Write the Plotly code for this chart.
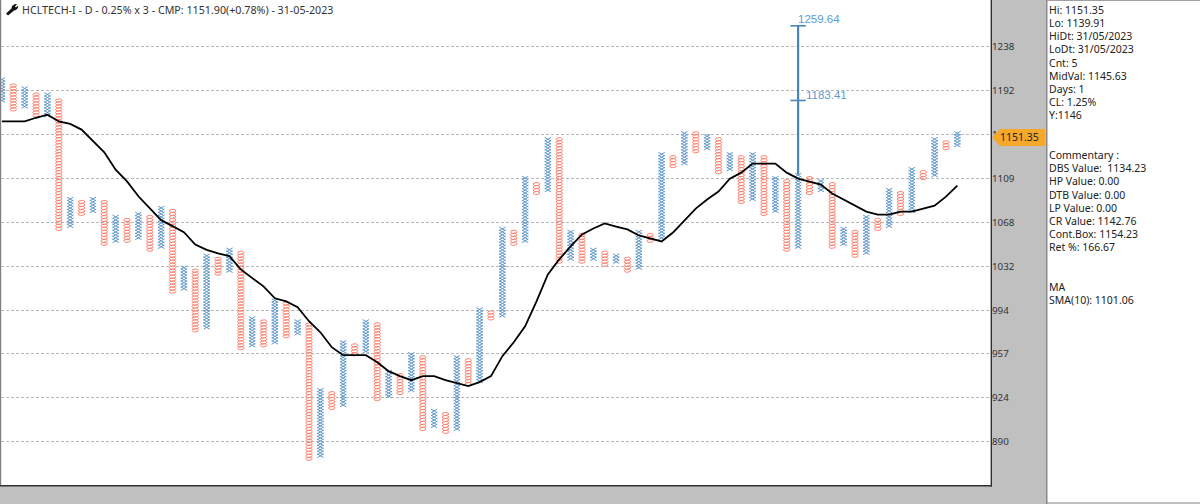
import numpy as np
import plotly.graph_objects as go

W, H = 1200, 504
BOX = 1.0025
ANCHOR = 1151.35

col_high = [1203.5,1199.5,1194.5,1190.5,1188.5,1184.6,1090.7,1088,1090.7,1088,1074.4,1071.7,1077.1,1074.4,1082.4,1079.8,1029.6,1027.1,1040,1037.4,1045.2,1042.6,986.7,983.5,1001.7,999.2,983.5,981.9,928.4,926.1,967.2,964,983.5,981.9,942.5,941,957.6,955.2,913.1,910.8,955.2,952.8,994.2,991.7,1063.8,1061.1,1108,1104.4,1146.7,1144.8,1061.1,1058.5,1045.2,1042.6,1040,1037.4,1061.1,1058.5,1132.3,1129.6,1152.3,1150.4,1149.5,1146.7,1132.3,1129.6,1132.3,1129.6,1109.9,1107.2,1112.7,1109.9,1107.2,1104.4,1063.8,1061.1,1074.4,1071.7,1098.9,1096.1,1118.3,1115.5,1146.7,1144,1151.35]
col_low = [1184.6,1175.8,1178.7,1167.9,1168.9,1063.8,1066.4,1077.1,1078.9,1050.4,1053.1,1053.1,1055.7,1044.8,1046.1,1009.2,1010.9,976.9,979.4,1024.5,1026.2,962.4,964.8,964.8,966.4,971.2,973.7,876.5,878.7,914.6,917.6,956.8,960,921.5,924.5,926.1,928.4,898.7,901,896.5,898.7,933.1,936.2,985.9,989.2,1050.4,1053.1,1096.1,1098.9,1034.8,1036.5,1034.8,1036.5,1031.4,1034.8,1026.2,1029.6,1053.1,1055.7,1121.1,1124,1135.2,1138.1,1115.5,1118.3,1088,1090.7,1077.1,1079.8,1045.2,1047,1096.1,1098.9,1047,1050.4,1040,1042.6,1063.8,1066.4,1077.1,1079.8,1109.9,1112.7,1138.1,1139.91]
sma_10 = [1162.9,1162.9,1162.9,1166.4,1169.4,1162.9,1160.4,1154.9,1143.7,1133.2,1116.9,1106,1092.3,1081.8,1070.7,1065.4,1060,1049.1,1044.4,1041.3,1039,1027.5,1019.9,1013,1003,1000.4,995.5,983.9,974.9,962.8,956.4,956.4,956.4,950.8,943.7,939.8,936.6,939.8,939.8,936.6,934.3,932,935.1,939.8,955.6,966.8,979.8,1000.4,1023.2,1036.1,1047.4,1058,1063.3,1067.7,1065,1062.4,1057.1,1054.4,1051.8,1059.7,1070.4,1081.1,1089.3,1096.6,1108.5,1114.1,1122.5,1122.5,1122.5,1114.1,1108.5,1105.8,1103,1094.8,1089.3,1083.8,1078.4,1075.7,1075.7,1078.4,1078.4,1081.1,1083.8,1092,1102]

target_col = 70
target_low = 1112.7
target_values = [1183.41, 1259.64]
target_labels = ["1183.41", "1259.64"]

grid_prices = [1238.2,1193.5,1150.4,1108.5,1068.6,1030.0,992.8,957.4,922.9,889.5]
grid_labels = ["1238","1192","1148","1109","1068","1032","994","957","924","890"]

title_text = "HCLTECH-I - D - 0.25% x 3 - CMP: 1151.90(+0.78%) - 31-05-2023"
callout_text = "1151.35"
info_lines = ["Hi: 1151.35","Lo: 1139.91","HiDt: 31/05/2023","LoDt: 31/05/2023","Cnt: 5","MidVal: 1145.63","Days: 1","CL: 1.25%","Y:1146","","",
              "Commentary :","DBS Value:  1134.23","HP Value: 0.00","DTB Value: 0.00","LP Value: 0.00","CR Value: 1142.76","Cont.Box: 1154.23","Ret %: 166.67","","",
              "MA","SMA(10): 1101.06"]

FONT = "Noto Sans"
GRAY = "#c0c0c0"
BLUE = "#5f97cc"
RED = "#ff8270"
GLYPH_W = 0.28   # half-width of a glyph, in columns
O_H = 0.58       # half-height of an O, in boxes
X_H = 0.62       # half-height of an X, in boxes


def box_index(hi, lo):
    step = np.log(BOX)
    a = int(round(np.log(hi / ANCHOR) / step))
    b = int(round(np.log(lo / ANCHOR) / step))
    return np.arange(b, a + 1)


theta = np.linspace(0, 2 * np.pi, 11)
ox, oy, xx, xy = [], [], [], []
for i, (hi, lo) in enumerate(zip(col_high, col_low)):
    for n in box_index(hi, lo):
        if i % 2:
            ox += (i + GLYPH_W * np.cos(theta)).tolist() + [None]
            oy += (ANCHOR * BOX ** (n + O_H * np.sin(theta))).tolist() + [None]
        else:
            xx += [i - GLYPH_W, i + GLYPH_W, None, i - GLYPH_W, i + GLYPH_W, None]
            xy += [ANCHOR * BOX ** (n - X_H), ANCHOR * BOX ** (n + X_H), None,
                   ANCHOR * BOX ** (n + X_H), ANCHOR * BOX ** (n - X_H), None]

fig = go.Figure()
fig.add_trace(go.Scatter(x=ox, y=oy, mode="lines", name="O", hoverinfo="skip", line=dict(color=RED, width=1)))
fig.add_trace(go.Scatter(x=xx, y=xy, mode="lines", name="X", hoverinfo="skip", line=dict(color=BLUE, width=1)))
fig.add_trace(go.Scatter(x=list(range(len(sma_10))), y=sma_10, mode="lines", name="SMA(10)",
                         line=dict(color="#000000", width=1.8)))
fig.add_trace(go.Scatter(x=[target_col] * 3, y=[target_low] + target_values, mode="lines",
                         line=dict(color="#4a86bb", width=2.2), hoverinfo="y"))
fig.add_trace(go.Scatter(x=[target_col] * 2, y=target_values, mode="markers", hoverinfo="y",
                         marker=dict(symbol="line-ew-open", size=11, color="#4a86bb", line=dict(width=1.6, color="#4a86bb"))))


def px(x, y):
    return f"{x / W:.5f},{1 - y / H:.5f}"


def poly(points):
    return "M" + " L".join(px(*p) for p in points) + " Z"


def rect(x0, y0, x1, y1, color, layer="below"):
    return dict(type="rect", xref="paper", yref="paper", x0=x0 / W, x1=x1 / W, y0=1 - y0 / H, y1=1 - y1 / H,
                fillcolor=color, line=dict(width=0), layer=layer)


shapes = [
    rect(1047, 1, 1200, 502, "#ffffff"),
    rect(1046, 0, 1047.5, 504, "#8a8a8a"),
    rect(1047, 0, 1200, 1, "#a0a0a0"),
    rect(0, 0, 1.2, 486, "#808080", "above"),
    rect(0, 485, 992, 486.5, "#303030", "above"),
    rect(990.6, 0, 992, 486.5, "#303030", "above"),
    dict(type="path", xref="paper", yref="paper", fillcolor="#f5a82a", line=dict(width=0), layer="above",
         path=poly([(992, 137.5), (1000, 129), (1045, 129), (1045, 146), (1000, 146)])),
    dict(type="path", xref="paper", yref="paper", fillcolor="#111111", line=dict(width=0), layer="above",
         path=poly([(8, 15.5), (6, 13.5), (11.5, 8.5), (12, 6), (15, 4), (17, 4), (15, 6.5), (16, 7.5), (18, 5.5), (18, 8), (16, 10), (14, 10.5)])),
]

annotations = [
    dict(xref="paper", yref="paper", x=19.5 / W, y=1 - 10.4 / H, text=title_text, showarrow=False, xanchor="left",
         yanchor="middle", font=dict(family=FONT, size=10.7, color="#333333")),
    dict(xref="paper", yref="paper", x=998 / W, y=1 - 137.5 / H, text=callout_text, showarrow=False, xanchor="left",
         yanchor="middle", font=dict(family=FONT, size=10.5, color="#222222")),
    dict(x=target_col, y=np.log10(target_values[0]), xref="x", yref="y", text=target_labels[0], showarrow=False,
         xanchor="left", yanchor="middle", xshift=6, yshift=5, font=dict(family="Liberation Sans", size=11.5, color="#5b9bd5")),
    dict(x=target_col, y=np.log10(target_values[1]), xref="x", yref="y", text=target_labels[1], showarrow=False,
         xanchor="left", yanchor="middle", xshift=-2, yshift=7, font=dict(family="Liberation Sans", size=11.5, color="#5b9bd5")),
]
for i, line in enumerate(info_lines):
    if line:
        annotations.append(dict(xref="paper", yref="paper", x=1046.5 / W, y=1 - (9.8 + 13.2 * i) / H, text=line,
                                showarrow=False, xanchor="left", yanchor="middle",
                                font=dict(family=FONT, size=10.5, color="#222222")))

fig.update_layout(
    width=W, height=H, autosize=False, showlegend=False,
    margin=dict(l=0, r=0, t=0, b=0, pad=0),
    paper_bgcolor=GRAY, plot_bgcolor="#ffffff",
    xaxis=dict(domain=[1 / W, 991 / W], range=[-0.08, 86.96], showgrid=False, zeroline=False,
               showticklabels=False, ticks="", showline=False, fixedrange=True),
    yaxis=dict(domain=[1 - 485 / H, 1], type="log", range=[np.log10(858.0), np.log10(1287.1)], side="right",
               anchor="x", tickmode="array", tickvals=grid_prices, ticktext=grid_labels, showgrid=True,
               gridcolor="#b8b8b8", griddash="3px,2px", gridwidth=1, zeroline=False, showline=False,
               ticks="", ticklabelposition="outside", tickfont=dict(family=FONT, size=9.8, color="#333333"),
               fixedrange=True),
    shapes=shapes, annotations=annotations,
)

fig.write_html("out.html", config={"displayModeBar": False},
               post_script="document.body.style.margin='0';document.body.style.overflow='hidden';")
